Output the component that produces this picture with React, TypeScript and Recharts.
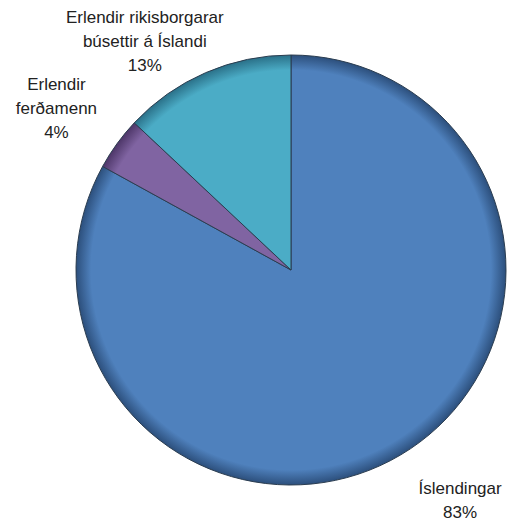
import React from 'react';
import { PieChart, Pie, Cell } from 'recharts';

const categories = ['Íslendingar', 'Erlendir ferðamenn', 'Erlendir rikisborgarar búsettir á Íslandi'];
const labelLines = [['Íslendingar'], ['Erlendir', 'ferðamenn'], ['Erlendir rikisborgarar', 'búsettir á Íslandi']];
const shares = [83, 4, 13];

const COLORS = ['#4F81BD', '#8064A2', '#4BACC6'];
const DARK = ['#2c4f7c', '#4d3668', '#2a7088'];
// small hand tweaks so labels sit where the original put them
const NUDGE = [{ dx: 24, dy: -15 }, { dx: -4, dy: 6 }, { dx: -33, dy: 33 }];

const data = categories.map((name, i) => ({ name, value: shares[i], lines: labelLines[i] }));

const RAD = Math.PI / 180;
// pie centre in page pixels (chart has a 5px margin)
const CX = 291;
const CY = 270;
const R = 215;

const renderLabel = (props: any) => {
  const { cx, cy, midAngle, outerRadius, index, value } = props;
  const d = outerRadius + 70;
  const x = cx + d * Math.cos(-midAngle * RAD) + NUDGE[index].dx;
  const y = cy + d * Math.sin(-midAngle * RAD) + NUDGE[index].dy;
  const lines: string[] = [...data[index].lines, `${value}%`];
  const lh = 24;
  const top = y - ((lines.length - 1) * lh) / 2;
  return (
    <text x={x} y={top} textAnchor="middle" dominantBaseline="central" fill="#222" fontSize={17} fontFamily="'Liberation Sans', Arial, sans-serif">
      {lines.map((l, i) => (
        <tspan key={i} x={x} y={top + i * lh}>{l}</tspan>
      ))}
    </text>
  );
};

const App: React.FC = () => {
  return (
    <div style={{ position: 'absolute', left: 0, top: 0, width: 507, height: 525, background: '#fff' }}>
      <PieChart width={507} height={525} margin={{ top: 0, right: 0, bottom: 0, left: 0 }}>
        <defs>
          {COLORS.map((c, i) => (
            <radialGradient key={i} id={`shade-${i}`} gradientUnits="userSpaceOnUse" cx={CX} cy={CY} r={R}>
              <stop offset="0%" stopColor={c} />
              <stop offset="93%" stopColor={c} />
              <stop offset="100%" stopColor={DARK[i]} />
            </radialGradient>
          ))}
        </defs>
        <Pie
          data={data}
          dataKey="value"
          cx={CX}
          cy={CY}
          outerRadius={R}
          startAngle={90}
          endAngle={-270}
          stroke="#2b3d50"
          strokeWidth={1}
          label={renderLabel}
          labelLine={false}
          isAnimationActive={false}
        >
          {data.map((entry, index) => (
            <Cell key={`cell-${index}`} fill={`url(#shade-${index})`} />
          ))}
        </Pie>
      </PieChart>
    </div>
  );
};

export default App;
